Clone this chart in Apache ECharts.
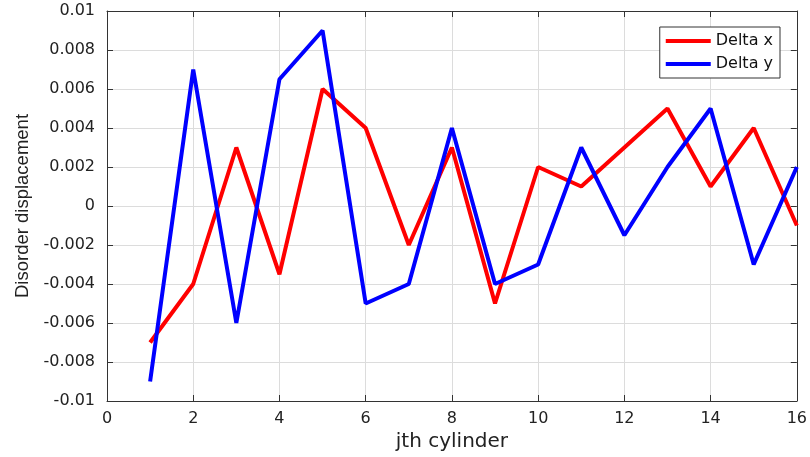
<!DOCTYPE html>
<html><head><meta charset="utf-8">
<script src="https://cdn.jsdelivr.net/npm/echarts@6/dist/echarts.min.js"></script>
<style>html,body{margin:0;padding:0;background:#fff}#c{width:810px;height:457px}</style>
</head><body><div id="c"></div>
<script>
const cylinders = [1,2,3,4,5,6,7,8,9,10,11,12,13,14,15,16];
const deltaX = [-0.007,-0.004,0.003,-0.0035,0.006,0.004,-0.002,0.003,-0.005,0.002,0.001,0.003,0.005,0.001,0.004,-0.001];
const deltaY = [-0.009,0.007,-0.006,0.0065,0.009,-0.005,-0.004,0.004,-0.004,-0.003,0.003,-0.0015,0.002,0.005,-0.003,0.002];
const seriesNames = ['Delta x','Delta y'];

const font = 'DejaVu Sans, sans-serif';
const yNameFont = 'Liberation Sans, Arial, sans-serif';
const axisCol = '#333333';
const chart = echarts.init(document.getElementById('c'));
const yFmt = v => (Math.abs(v) < 1e-12 ? '0' : String(+v.toFixed(3)));
chart.setOption({
  animation:false,
  backgroundColor:'#fff',
  grid:{left:107,right:10,top:11,bottom:56,containLabel:false},
  legend:{
    right:30, top:27, orient:'vertical',
    data:seriesNames,
    icon:'rect', itemWidth:45, itemHeight:4, itemGap:7,
    borderColor:'#333', borderWidth:1, padding:[6,7,6,6],
    backgroundColor:'#fff',
    textStyle:{fontFamily:font,fontSize:16,color:'#111'}
  },
  xAxis:[{
    type:'value', min:0, max:16, interval:2,
    name:'jth cylinder', nameLocation:'middle', nameGap:31,
    nameTextStyle:{fontFamily:font,fontSize:20,color:'#222'},
    axisLine:{show:true,onZero:false,lineStyle:{color:axisCol,width:1}},
    axisTick:{show:true,inside:true,length:6,lineStyle:{color:axisCol}},
    axisLabel:{fontFamily:font,fontSize:16,color:'#222',margin:10},
    splitLine:{show:true,lineStyle:{color:'#dcdcdc',width:1}}
  },{
    type:'value', min:0, max:16, interval:2, position:'top',
    axisLine:{show:true,onZero:false,lineStyle:{color:axisCol,width:1}},
    axisTick:{show:true,inside:true,length:6,lineStyle:{color:axisCol}},
    axisLabel:{show:false}, splitLine:{show:false}
  }],
  yAxis:[{
    type:'value', min:-0.01, max:0.01, interval:0.002,
    name:'Disorder displacement', nameLocation:'middle', nameGap:75,
    nameTextStyle:{fontFamily:yNameFont,fontSize:18.5,color:'#222'},
    axisLine:{show:true,onZero:false,lineStyle:{color:axisCol,width:1}},
    axisTick:{show:true,inside:true,length:6,lineStyle:{color:axisCol}},
    axisLabel:{fontFamily:font,fontSize:16,color:'#222',margin:12,formatter:yFmt},
    splitLine:{show:true,lineStyle:{color:'#dcdcdc',width:1}}
  },{
    type:'value', min:-0.01, max:0.01, interval:0.002, position:'right',
    axisLine:{show:true,onZero:false,lineStyle:{color:axisCol,width:1}},
    axisTick:{show:true,inside:true,length:6,lineStyle:{color:axisCol}},
    axisLabel:{show:false}, splitLine:{show:false}
  }],
  series:[
    {name:seriesNames[0],type:'line',data:cylinders.map((c,i)=>[c,deltaX[i]]),showSymbol:false,symbol:'none',
     lineStyle:{color:'#ff0000',width:4},itemStyle:{color:'#ff0000'}},
    {name:seriesNames[1],type:'line',data:cylinders.map((c,i)=>[c,deltaY[i]]),showSymbol:false,symbol:'none',
     lineStyle:{color:'#0000ff',width:4},itemStyle:{color:'#0000ff'}}
  ]
});
</script></body></html>
